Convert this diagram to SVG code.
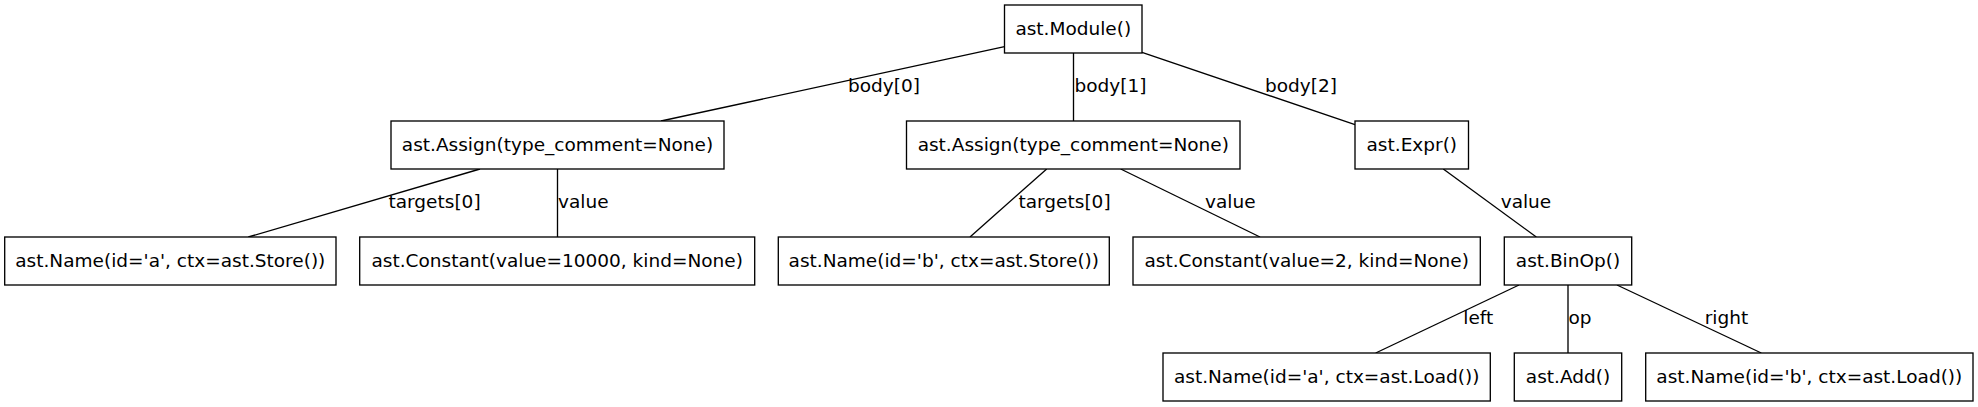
<svg xmlns="http://www.w3.org/2000/svg" width="1978" height="407" viewBox="0 0 1978 407">
<style>
.n rect{fill:#fff;stroke:#000;stroke-width:1.33}
.n text{font-family:"DejaVu Sans","Liberation Sans",sans-serif;font-size:18.5px;text-anchor:middle;fill:#000}
.e line{stroke:#000;stroke-width:1.33}
.e text{font-family:"DejaVu Sans","Liberation Sans",sans-serif;font-size:18.5px;fill:#000}
</style>
<rect x="0" y="0" width="1978" height="407" fill="#fff"/>
<g id="connectors" class="e">
<line x1="1004.5" y1="46.7" x2="661" y2="121"/>
<text x="848" y="92">body[0]</text>
<line x1="1073.5" y1="53" x2="1073.5" y2="121"/>
<text x="1074.5" y="92">body[1]</text>
<line x1="1142" y1="52.3" x2="1355" y2="124.7"/>
<text x="1265" y="92">body[2]</text>
<line x1="480" y1="169" x2="248.3" y2="237"/>
<text x="388.5" y="208">targets[0]</text>
<line x1="557.5" y1="169" x2="557.5" y2="237"/>
<text x="558" y="208">value</text>
<line x1="1046.7" y1="169" x2="970" y2="237"/>
<text x="1018.5" y="208">targets[0]</text>
<line x1="1120.7" y1="169" x2="1260" y2="237"/>
<text x="1205" y="208">value</text>
<line x1="1443.3" y1="169" x2="1536.3" y2="237"/>
<text x="1500.7" y="208">value</text>
<line x1="1519" y1="285" x2="1375.7" y2="353"/>
<text x="1463.3" y="324">left</text>
<line x1="1568" y1="285" x2="1568" y2="353"/>
<text x="1568.5" y="324">op</text>
<line x1="1617" y1="285" x2="1761.3" y2="353"/>
<text x="1704.7" y="324">right</text>
</g>
<g id="module" class="n"><rect x="1004.5" y="5" width="137.5" height="48"/><text x="1073.3" y="34.6">ast.Module()</text></g>
<g id="assign1" class="n"><rect x="391" y="121" width="333" height="48"/><text x="557.5" y="150.6">ast.Assign(type_comment=None)</text></g>
<g id="assign2" class="n"><rect x="906.5" y="121" width="333.5" height="48"/><text x="1073.3" y="150.6">ast.Assign(type_comment=None)</text></g>
<g id="expr" class="n"><rect x="1355" y="121" width="113.5" height="48"/><text x="1411.8" y="150.6">ast.Expr()</text></g>
<g id="name_a_store" class="n"><rect x="4.7" y="237" width="331.3" height="48"/><text x="170.3" y="266.6">ast.Name(id='a', ctx=ast.Store())</text></g>
<g id="constant_10000" class="n"><rect x="359.7" y="237" width="395" height="48"/><text x="557.2" y="266.6">ast.Constant(value=10000, kind=None)</text></g>
<g id="name_b_store" class="n"><rect x="778.3" y="237" width="331" height="48"/><text x="943.8" y="266.6">ast.Name(id='b', ctx=ast.Store())</text></g>
<g id="constant_2" class="n"><rect x="1133" y="237" width="347.3" height="48"/><text x="1306.7" y="266.6">ast.Constant(value=2, kind=None)</text></g>
<g id="binop" class="n"><rect x="1504.3" y="237" width="127.4" height="48"/><text x="1568" y="266.6">ast.BinOp()</text></g>
<g id="name_a_load" class="n"><rect x="1163" y="353" width="327.3" height="48"/><text x="1326.7" y="382.6">ast.Name(id='a', ctx=ast.Load())</text></g>
<g id="add" class="n"><rect x="1514.3" y="353" width="107.4" height="48"/><text x="1568" y="382.6">ast.Add()</text></g>
<g id="name_b_load" class="n"><rect x="1645.7" y="353" width="327.3" height="48"/><text x="1809.3" y="382.6">ast.Name(id='b', ctx=ast.Load())</text></g>
</svg>
